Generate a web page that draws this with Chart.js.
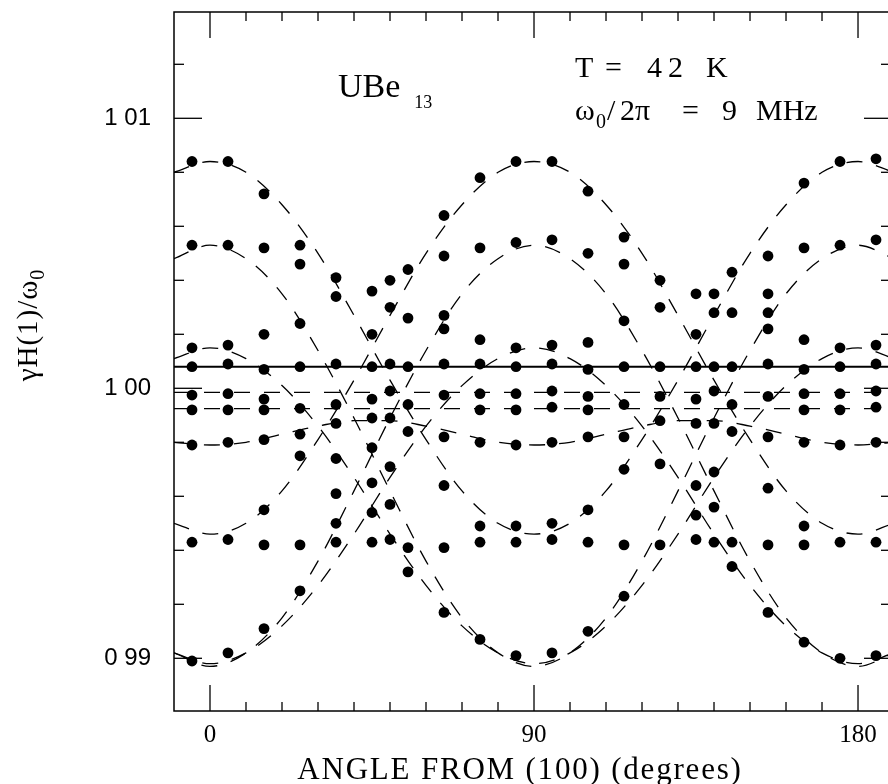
<!DOCTYPE html>
<html>
<head>
<meta charset="utf-8">
<title>UBe13 - resonancia vs angulo</title>
<script src="https://cdn.jsdelivr.net/npm/chart.js@4.4.0/dist/chart.umd.min.js"></script>
<style>
    body { margin: 0; background: #fff; }
    #wrap { width: 888px; height: 784px; }
</style>
</head>
<body>
<div id="wrap"><canvas id="grafico" width="888" height="784"></canvas></div>
<script>
// Angulos medidos (graus a partir de (100))
const angles = [-5, 5, 15, 25, 35, 45, 50, 55, 65, 75, 85, 95, 105, 115, 125, 135, 140, 145, 155, 165, 175, 185];

// Valores de gamma H1 / omega0 lidos em cada angulo
const resonances = [
    [1.0084, 1.0053, 1.0015, 1.0008, 0.99975, 0.9992, 0.9979, 0.9943, 0.9899],
    [1.0084, 1.0053, 1.0016, 1.0009, 0.9998, 0.9992, 0.9980, 0.9944, 0.9902],
    [1.0072, 1.0052, 1.0020, 1.0007, 0.9996, 0.9992, 0.9981, 0.9955, 0.9942, 0.9911],
    [1.0053, 1.0046, 1.0024, 1.0008, 0.99926, 0.9983, 0.9975, 0.9942, 0.9925],
    [1.0041, 1.0034, 1.0009, 0.9994, 0.9987, 0.9974, 0.9961, 0.9950, 0.9943],
    [1.0036, 1.0020, 1.0008, 0.9996, 0.9989, 0.9978, 0.9965, 0.9954, 0.9943],
    [1.0040, 1.0030, 1.0009, 0.9999, 0.9989, 0.9971, 0.9957, 0.9944],
    [1.0044, 1.0026, 1.0008, 0.9994, 0.9984, 0.9941, 0.9932],
    [1.0064, 1.0049, 1.0027, 1.0022, 1.0009, 0.99975, 0.9982, 0.9964, 0.9941, 0.9917],
    [1.0078, 1.0052, 1.0018, 1.0009, 0.9998, 0.9992, 0.9980, 0.9949, 0.9943, 0.9907],
    [1.0084, 1.0054, 1.0015, 1.0008, 0.9998, 0.9992, 0.9979, 0.9949, 0.9943, 0.9901],
    [1.0084, 1.0055, 1.0016, 1.0009, 0.9999, 0.9993, 0.9980, 0.9950, 0.9944, 0.9902],
    [1.0073, 1.0050, 1.0017, 1.0007, 0.9997, 0.9992, 0.9982, 0.9955, 0.9943, 0.9910],
    [1.0056, 1.0046, 1.0025, 1.0008, 0.9994, 0.9982, 0.9970, 0.9942, 0.9923],
    [1.0040, 1.0030, 1.0008, 0.9997, 0.9988, 0.9972, 0.9942],
    [1.0035, 1.0020, 1.0008, 0.9996, 0.9987, 0.9964, 0.9953, 0.9944],
    [1.0035, 1.0028, 1.0008, 0.9999, 0.9987, 0.9969, 0.9956, 0.9943],
    [1.0043, 1.0028, 1.0008, 0.9994, 0.9984, 0.9943, 0.9934],
    [1.0049, 1.0035, 1.0028, 1.0022, 1.0009, 0.9997, 0.9982, 0.9963, 0.9942, 0.9917],
    [1.0076, 1.0052, 1.0018, 1.0007, 0.9998, 0.9992, 0.9980, 0.9949, 0.9942, 0.9906],
    [1.0084, 1.0053, 1.0015, 1.0008, 0.9998, 0.9992, 0.9979, 0.9943, 0.9900],
    [1.0085, 1.0055, 1.0016, 1.0009, 0.9999, 0.9993, 0.9980, 0.9943, 0.9901]
];

// Curvas tracejadas, lidas a cada 10 graus
const fitAngles = [-10, 0, 10, 20, 30, 40, 50, 60, 70, 80, 90, 100, 110, 120, 130, 140, 150, 160, 170, 180, 190];
const fitC1 = [1.0080, 1.0084, 1.0080, 1.0068, 1.0050, 1.0027, 1.0003, 0.9981, 0.9962, 0.9950, 0.9946, 0.9950, 0.9962, 0.9981, 1.0003, 1.0027, 1.0050, 1.0068, 1.0080, 1.0084, 1.0080];
const fitC2 = [0.9950, 0.9946, 0.9950, 0.9962, 0.9981, 1.0003, 1.0027, 1.0050, 1.0068, 1.0080, 1.0084, 1.0080, 1.0068, 1.0050, 1.0027, 1.0003, 0.9981, 0.9962, 0.9950, 0.9946, 0.9950];
const fitD1 = [1.0048, 1.0053, 1.0048, 1.0035, 1.0014, 0.9989, 0.9962, 0.9936, 0.9915, 0.9902, 0.9897, 0.9902, 0.9915, 0.9936, 0.9962, 0.9989, 1.0014, 1.0035, 1.0048, 1.0053, 1.0048];
const fitD2 = [0.9902, 0.9897, 0.9902, 0.9915, 0.9936, 0.9962, 0.9989, 1.0014, 1.0035, 1.0048, 1.0053, 1.0048, 1.0035, 1.0014, 0.9989, 0.9962, 0.9936, 0.9915, 0.9902, 0.9897, 0.9902];
const fitE1 = [1.0011, 1.0015, 1.0011, 1.0001, 0.9986, 0.9967, 0.9946, 0.9927, 0.9912, 0.9902, 0.9898, 0.9902, 0.9912, 0.9927, 0.9946, 0.9967, 0.9986, 1.0001, 1.0011, 1.0015, 1.0011];
const fitE2 = [0.9902, 0.9898, 0.9902, 0.9912, 0.9927, 0.9946, 0.9967, 0.9986, 1.0001, 1.0011, 1.0015, 1.0011, 1.0001, 0.9986, 0.9967, 0.9946, 0.9927, 0.9912, 0.9902, 0.9898, 0.9902];
const fitL3 = [0.9980, 0.9979, 0.9980, 0.9983, 0.9986, 0.9988, 0.9988, 0.9986, 0.9983, 0.9980, 0.9979, 0.9980, 0.9983, 0.9986, 0.9988, 0.9988, 0.9986, 0.9983, 0.9980, 0.9979, 0.9980];

// Linhas planas
const flatAngles = [-10, 190];
const fitL1 = [0.99985, 0.99985];
const fitL2 = [0.99925, 0.99925];
const solidLine = [1.0008, 1.0008];

// Eixos
const xMajorTicks = [0, 90, 180];
const xTickLabels = ['0', '90', '180'];
const yMajorTicks = [0.99, 1.00, 1.01];
const yTickLabels = ['0 99', '1 00', '1 01'];

function toPoints(xs, ys) {
    return xs.map((x, i) => ({ x: x, y: ys[i] }));
}

const pontos = [];
angles.forEach((a, i) => {
    resonances[i].forEach(v => pontos.push({ x: a, y: v }));
});

const dashedCurves = [fitC1, fitC2, fitD1, fitD2, fitE1, fitE2, fitL3].map(ys => ({
    data: toPoints(fitAngles, ys),
    showLine: true,
    borderColor: '#000',
    borderWidth: 1.3,
    borderDash: [16, 14],
    pointRadius: 0,
    cubicInterpolationMode: 'monotone',
    fill: false
}));

const flatCurves = [fitL1, fitL2].map(ys => ({
    data: toPoints(flatAngles, ys),
    showLine: true,
    borderColor: '#000',
    borderWidth: 1.3,
    borderDash: [16, 14],
    pointRadius: 0,
    fill: false
}));

// Moldura, marcas internas e textos
const frameAndText = {
    id: 'frameAndText',
    afterDatasetsDraw(chart) {
        const { ctx, chartArea: a, scales: { x, y } } = chart;
        const seg = (x1, y1, x2, y2) => {
            ctx.beginPath(); ctx.moveTo(x1, y1); ctx.lineTo(x2, y2); ctx.stroke();
        };
        ctx.save();
        ctx.strokeStyle = '#000';
        ctx.lineWidth = 1.5;
        ctx.strokeRect(a.left, a.top, a.right - a.left + 4, a.bottom - a.top);

        ctx.lineWidth = 1.3;
        for (let v = -10; v <= 190; v += 10) {
            const px = x.getPixelForValue(v);
            if (px <= a.left + 1 || px >= a.right) continue;
            const len = xMajorTicks.includes(v) ? 26 : 9;
            seg(px, a.bottom, px, a.bottom - len);
            seg(px, a.top, px, a.top + len);
        }
        for (let i = 0; i <= 14; i++) {
            const v = 0.988 + i * 0.002;
            const py = y.getPixelForValue(v);
            if (py <= a.top + 1 || py >= a.bottom - 1) continue;
            const major = yMajorTicks.some(m => Math.abs(m - v) < 1e-6);
            seg(a.left, py, a.left + (major ? 28 : 10), py);
            seg(a.right, py, a.right - (major ? 24 : 7), py);
        }

        ctx.fillStyle = '#000';
        ctx.font = '25px "Liberation Serif"';
        ctx.textAlign = 'center';
        ctx.textBaseline = 'middle';
        xMajorTicks.forEach((v, i) => ctx.fillText(xTickLabels[i], x.getPixelForValue(v), a.bottom + 24));

        ctx.font = '24px "Liberation Sans"';
        ctx.textAlign = 'right';
        yMajorTicks.forEach((v, i) => ctx.fillText(yTickLabels[i], a.left - 23, y.getPixelForValue(v)));

        // titulo do eixo x
        ctx.textBaseline = 'alphabetic';
        ctx.textAlign = 'center';
        ctx.font = '31px "Liberation Serif"';
        ctx.letterSpacing = '1.8px';
        ctx.fillText('ANGLE FROM (100) (degrees)', a.left + 346, 779);
        ctx.letterSpacing = '0px';

        // titulo do eixo y (rodado)
        ctx.save();
        ctx.translate(37, 325);
        ctx.rotate(-Math.PI / 2);
        ctx.font = '29px "Liberation Serif"';
        ctx.letterSpacing = '1px';
        const main = 'γH(1)/ω';
        const w1 = ctx.measureText(main).width;
        ctx.font = '20px "Liberation Serif"';
        const w2 = ctx.measureText('0').width;
        ctx.textAlign = 'left';
        ctx.font = '29px "Liberation Serif"';
        ctx.fillText(main, -(w1 + w2) / 2, 0);
        ctx.font = '20px "Liberation Serif"';
        ctx.fillText('0', -(w1 + w2) / 2 + w1, 7);
        ctx.letterSpacing = '0px';
        ctx.restore();

        // anotacoes
        ctx.textAlign = 'left';
        ctx.font = '34px "Liberation Serif"';
        ctx.fillText('UBe', 338, 97);
        const wu = ctx.measureText('UBe').width;
        ctx.font = '18px "Liberation Serif"';
        ctx.fillText('13', 338 + wu + 14, 108);

        ctx.font = '30px "Liberation Serif"';
        [['T', 575], ['=', 605], ['4', 647], ['2', 668], ['K', 706]].forEach(t => ctx.fillText(t[0], t[1], 77));
        [['ω', 575], ['/', 607], ['2π', 620], ['=', 682], ['9', 722], ['MHz', 756]].forEach(t => ctx.fillText(t[0], t[1], 120));
        ctx.font = '20px "Liberation Serif"';
        ctx.fillText('0', 596, 128);
        ctx.restore();
    }
};

new Chart(document.getElementById('grafico'), {
    type: 'scatter',
    data: {
        datasets: [
            {
                data: pontos,
                pointRadius: 5.4,
                pointBackgroundColor: '#000',
                pointBorderColor: '#000',
                pointBorderWidth: 0
            },
            {
                data: toPoints(flatAngles, solidLine),
                showLine: true,
                borderColor: '#000',
                borderWidth: 2,
                pointRadius: 0,
                fill: false
            },
            ...dashedCurves,
            ...flatCurves
        ]
    },
    options: {
        responsive: false,
        animation: false,
        devicePixelRatio: 1,
        layout: { autoPadding: false, padding: { left: 174, right: 0, top: 12, bottom: 73 } },
        plugins: { legend: { display: false }, tooltip: { enabled: false } },
        scales: {
            x: { type: 'linear', min: -10, max: 188.33, display: false },
            y: { type: 'linear', min: 0.988048, max: 1.013937, display: false }
        }
    },
    plugins: [frameAndText]
});
</script>
</body>
</html>
